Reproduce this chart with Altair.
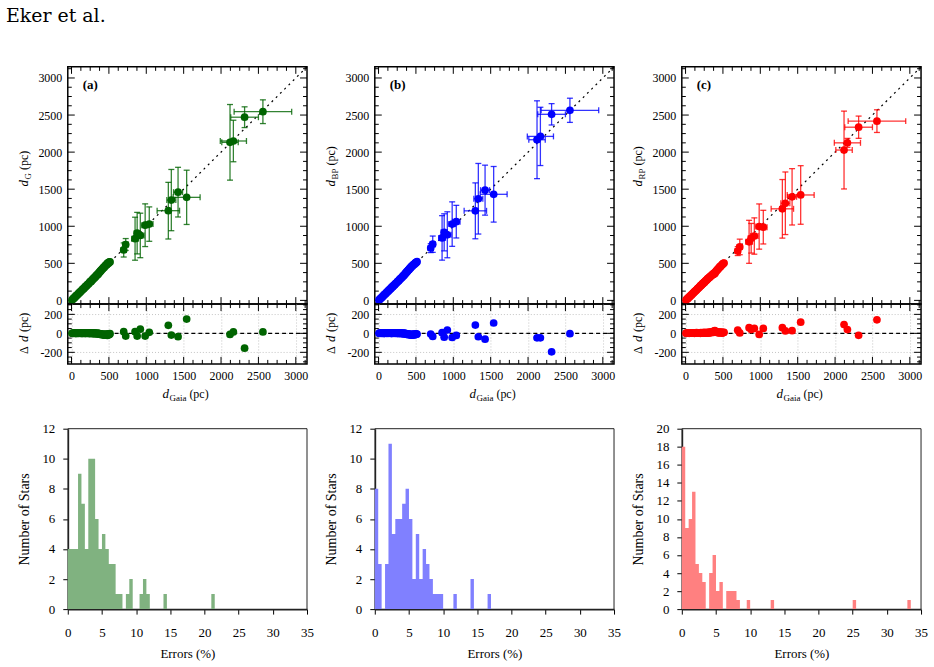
import altair as alt
import pandas as pd

FONT = "Liberation Serif"

# ---------------- data ----------------
# distant stars (pc)
far_gaia = [698, 725, 850, 878, 920, 985, 1040, 1295, 1335, 1425, 1540, 2120, 2165, 2315, 2560]
far_gaia_err = [35, 35, 45, 40, 50, 45, 50, 150, 60, 60, 180, 110, 175, 185, 385]
far_g = [680, 754, 832, 907, 876, 1014, 1029, 1210, 1353, 1460, 1390, 2132, 2150, 2471, 2545]
far_g_err = [95, 80, 290, 280, 300, 288, 232, 382, 413, 335, 366, 510, 280, 140, 160]
far_bp = [705, 758, 843, 918, 885, 1029, 1062, 1208, 1371, 1487, 1431, 2167, 2212, 2510, 2564]
far_bp_err = [60, 110, 300, 250, 310, 300, 220, 377, 476, 337, 375, 525, 393, 144, 163]
far_rp = [665, 721, 790, 838, 868, 996, 988, 1235, 1310, 1397, 1422, 2028, 2125, 2336, 2418]
far_rp_err = [60, 105, 290, 200, 245, 305, 227, 395, 422, 380, 395, 525, 60, 150, 153]

# nearby stars: Gaia distance and residuals (d_Gaia - d_band)
cl_gaia = [6, 14, 21, 27, 34, 40, 48, 55, 61, 69, 76, 83,
           90, 97, 104, 111, 119, 126, 132, 140, 147, 154, 161, 168,
           176, 183, 190, 198, 205, 212, 219, 226, 233, 241, 248, 255,
           262, 270, 277, 284, 291, 298, 306, 313, 320, 327, 334, 342,
           349, 356, 363, 371, 378, 385, 392, 399, 407, 414, 421, 428,
           436, 443, 450, 458, 465, 472, 480, 487, 494, 501, 508, 515]
cl_res_g = [1, 0, 2, -1, 1, 3, 0, 2, -2, 1, 4, 0,
            2, -1, 3, 1, 0, 4, 2, -2, 1, 3, 0, 5,
            2, -3, 1, 4, 0, 2, -1, 5, 3, 0, -4, 2,
            6, 1, -2, 3, 0, -5, 4, 2, -3, 1, -6, 0,
            -4, 3, -8, -2, -10, -5, -12, -7, -15, -9, -13, -18,
            -8, -14, -20, -11, -16, -9, -22, -12, -6, -15, -10, -4]
cl_res_bp = [0, 2, 1, 3, -1, 2, 4, 0, 1, 3, -2, 2,
             1, 4, 0, 2, 3, -1, 5, 1, 2, 0, 4, 3,
             -2, 1, 5, 2, 0, 3, 6, -1, 2, 4, 1, -3,
             3, 5, 0, 2, -4, 4, 1, -2, 3, -5, 0, 2,
             -6, 1, -8, -3, -11, -5, -9, -14, -7, -12, -17, -10,
             -15, -20, -9, -13, -18, -11, -8, -16, -12, -5, -10, -7]
cl_res_rp = [2, 0, 3, 1, 4, 2, 0, 5, 3, 1, 6, 2,
             4, 1, 5, 3, 0, 6, 2, 4, 7, 1, 3, 5,
             2, 6, 4, 0, 8, 3, 5, 1, 7, 4, 2, 9,
             5, 3, 8, 6, 2, 10, 4, 7, 12, 5, 9, 14,
             8, 12, 18, 10, 24, 15, 30, 20, 12, 16, 8, 14,
             10, 6, 12, 4, 9, 13, 7, 3, 10, 5, 8, 11]

# histograms of errors (%), bin width 0.5 (only non-empty bins listed)
BIN_W = 0.5
g_bins = [0, 0.5, 1, 1.5, 2, 2.5, 3, 3.5, 4, 4.5, 5, 5.5, 6, 6.5, 7, 7.5, 8.5, 9, 10.5, 11, 11.5, 14, 21]
g_counts = [4, 4, 4, 9, 7, 4, 10, 10, 6, 4, 5, 4, 3, 3, 1, 1, 1, 2, 1, 2, 1, 1, 1]
bp_bins = [0, 0.5, 1.5, 2, 2.5, 3, 3.5, 4, 4.5, 5, 5.5, 6, 6.5, 7, 7.5, 8, 8.5, 9, 9.5, 11.5, 14, 16.5]
bp_counts = [8, 3, 3, 11, 5, 6, 6, 7, 8, 6, 2, 5, 2, 4, 3, 2, 1, 1, 1, 1, 2, 1]
rp_bins = [0, 0.5, 1, 1.5, 2, 2.5, 3, 4, 4.5, 5, 5.5, 6.5, 7, 7.5, 8, 9.5, 13, 25, 33]
rp_counts = [18, 9, 10, 13, 5, 4, 3, 4, 6, 2, 3, 2, 2, 2, 1, 1, 1, 1, 1]

major_d = [0, 500, 1000, 1500, 2000, 2500, 3000]
minor_d = [125, 250, 375, 625, 750, 875, 1125, 1250, 1375, 1625, 1750, 1875,
           2125, 2250, 2375, 2625, 2750, 2875, 3125]
major_r = [-200, 0, 200]
minor_r = [-300, -250, -150, -100, -50, 50, 100, 150, 250, 300]

# ---------------- layout constants ----------------
W = 240
H_TOP = 238
H_RES = 60
GAP = 65
H_HIST = 181
D_LO, D_HI = -50, 3150
R_LO, R_HI = -322, 308
MAJ_L, MIN_L = 7, 4


def one_row():
    return pd.DataFrame({"k": [0]})


def frame_ticks(X, Y, xmaj, xmin, ymaj, ymin, w, h):
    layers = []
    for vals, L in ((xmaj, MAJ_L), (xmin, MIN_L)):
        base = alt.Chart(pd.DataFrame({"v": vals})).mark_rule(color="black", strokeWidth=1)
        layers.append(base.encode(x=X("v"), y=alt.value(h), y2=alt.value(h - L)))
        layers.append(base.encode(x=X("v"), y=alt.value(0), y2=alt.value(L)))
    for vals, L in ((ymaj, MAJ_L), (ymin, MIN_L)):
        base = alt.Chart(pd.DataFrame({"v": vals})).mark_rule(color="black", strokeWidth=1)
        layers.append(base.encode(y=Y("v"), x=alt.value(0), x2=alt.value(L)))
        layers.append(base.encode(y=Y("v"), x=alt.value(w), x2=alt.value(w - L)))
    return layers


def txt(text, x, y, size, style="normal", weight="normal", angle=0, font=FONT):
    kw = dict(text=text, font=font, fontSize=size, fontStyle=style, fontWeight=weight,
              align="left", baseline="alphabetic", color="black")
    if angle:
        kw["angle"] = angle
    return alt.Chart(one_row()).mark_text(**kw).encode(x=alt.value(x), y=alt.value(y))


def rot_title_d(sub, subw, x0, y0):
    return [
        txt("d", x0, y0, 13, style="italic", angle=270),
        txt(sub, x0 + 3, y0 - 7, 9, angle=270),
        txt("(pc)", x0, y0 - 7 - subw - 3, 12, angle=270),
    ]


def panel(letter, far_d, far_err, cl_res, color, sub, subw, first=False):
    xs = alt.Scale(domain=[D_LO, D_HI], nice=False, zero=False)
    ys = alt.Scale(domain=[D_LO, D_HI], nice=False, zero=False)
    yax = alt.Axis(values=major_d, ticks=False, domain=False, grid=False, title=None,
                   labelPadding=6, labelExpr="'' + datum.value", labelFlush=False,
                   labelOverlap=False)

    def X(f):
        return alt.X(f, type="quantitative", scale=xs, axis=None)

    def Y(f):
        return alt.Y(f, type="quantitative", scale=ys, axis=yax)

    far = pd.DataFrame({"gaia": far_gaia, "gerr": far_gaia_err, "d": far_d, "err": far_err})
    far["lo"] = far["d"] - far["err"]
    far["hi"] = far["d"] + far["err"]
    far["xlo"] = far["gaia"] - far["gerr"]
    far["xhi"] = far["gaia"] + far["gerr"]
    far["res"] = far["gaia"] - far["d"]
    cl = pd.DataFrame({"gaia": cl_gaia, "res": cl_res})
    cl["d"] = cl["gaia"] - cl["res"]
    pts = pd.concat([cl[["gaia", "d", "res"]], far[["gaia", "d", "res"]]], ignore_index=True)

    eb = dict(color=color, opacity=0.8, strokeWidth=1.3)
    layers = frame_ticks(X, Y, major_d, minor_d, major_d, minor_d, W, H_TOP)
    layers.append(
        alt.Chart(pd.DataFrame({"a": [D_LO, D_HI], "b": [D_LO, D_HI]}))
        .mark_line(color="black", strokeDash=[2, 4], strokeWidth=1.2)
        .encode(x=X("a"), y=Y("b"))
    )
    layers.append(alt.Chart(far).mark_rule(**eb).encode(x=X("gaia"), y=Y("lo"), y2="hi"))
    layers.append(alt.Chart(far).mark_rule(**eb).encode(y=Y("d"), x=X("xlo"), x2="xhi"))
    cap_h = dict(shape="M-1,0L1,0", size=36, filled=False, **eb)
    cap_v = dict(shape="M0,-1L0,1", size=36, filled=False, **eb)
    layers.append(alt.Chart(far).mark_point(**cap_h).encode(x=X("gaia"), y=Y("lo")))
    layers.append(alt.Chart(far).mark_point(**cap_h).encode(x=X("gaia"), y=Y("hi")))
    layers.append(alt.Chart(far).mark_point(**cap_v).encode(x=X("xlo"), y=Y("d")))
    layers.append(alt.Chart(far).mark_point(**cap_v).encode(x=X("xhi"), y=Y("d")))
    layers.append(alt.Chart(pts).mark_circle(size=60, color=color, opacity=1).encode(x=X("gaia"), y=Y("d")))
    layers.append(txt("(" + letter + ")", 15, 22, 13, weight="bold"))
    layers += rot_title_d(sub, subw, -40, 120)
    if first:
        layers.append(txt("Eker et al.", -62, -45, 19, font="DejaVu Serif"))
    top = alt.layer(*layers).properties(width=W, height=H_TOP)

    # residual panel
    xs2 = alt.Scale(domain=[D_LO, D_HI], nice=False, zero=False)
    ys2 = alt.Scale(domain=[R_LO, R_HI], nice=False, zero=False)
    xax2 = alt.Axis(values=major_d, ticks=False, domain=False, title=None, labelPadding=7,
                    labelExpr="'' + datum.value", labelFlush=False, labelOverlap=False,
                    grid=True, gridColor="#c4c4c4", gridDash=[1, 2], gridWidth=1)
    yax2 = alt.Axis(values=major_r, ticks=False, domain=False, title=None, labelPadding=6,
                    labelExpr="'' + datum.value", labelFlush=False, labelOverlap=False,
                    grid=True, gridColor="#c4c4c4", gridDash=[1, 2], gridWidth=1)

    def X2(f):
        return alt.X(f, type="quantitative", scale=xs2, axis=xax2)

    def Y2(f):
        return alt.Y(f, type="quantitative", scale=ys2, axis=yax2)

    rl = frame_ticks(X2, Y2, major_d, minor_d, major_r, minor_r, W, H_RES)
    rl.append(
        alt.Chart(pd.DataFrame({"z": [0]}))
        .mark_rule(color="black", strokeDash=[4, 3], strokeWidth=1.1)
        .encode(y=Y2("z"))
    )
    rl.append(alt.Chart(pts).mark_circle(size=60, color=color, opacity=1).encode(x=X2("gaia"), y=Y2("res")))
    rl += [
        txt("\u0394", -40, 50, 12, angle=270),
        txt("d", -40, 38, 13, style="italic", angle=270),
        txt("(pc)", -40, 28, 12, angle=270),
    ]
    rl += [
        txt("d", 95, H_RES + 34, 13, style="italic"),
        txt("Gaia", 102, H_RES + 37, 9),
        txt("(pc)", 122, H_RES + 34, 12),
    ]
    res = alt.layer(*rl).properties(width=W, height=H_RES)
    return top, res


def hist(bins, counts, color, ymax):
    # full sequence of bin edges (empty bins have count 0) for a seamless step fill
    lookup = {round(b / BIN_W): c for b, c in zip(bins, counts)}
    n_bins = max(lookup) + 1
    edges = [i * BIN_W for i in range(n_bins + 1)]
    heights = [lookup.get(i, 0) for i in range(n_bins)] + [0]
    df = pd.DataFrame({"edge": edges, "n": heights, "base": [0] * len(edges)})
    total_h = GAP + H_HIST
    xsc = alt.Scale(domain=[0, 35], nice=False, zero=False)
    ysc = alt.Scale(domain=[0, ymax], nice=False, range=[total_h, GAP])
    xax = alt.Axis(values=list(range(0, 36, 5)), tickSize=5, tickColor="black", domainColor="#222222",
                   domainWidth=1.8, labelPadding=12, labelFlush=False, labelOverlap=False, grid=False,
                   labelFontSize=13, title="Errors (%)", titlePadding=9)
    yax = alt.Axis(values=list(range(0, ymax + 1, 2)), tickSize=5, tickColor="black", domainColor="#222222",
                   domainWidth=1.8, labelPadding=8, labelFlush=False, labelOverlap=False, grid=False,
                   labelFontSize=13, title="Number of Stars", titlePadding=10, titleFontSize=14)
    bars = (
        alt.Chart(df)
        .mark_area(interpolate="step-after", color=color, opacity=1)
        .encode(
            x=alt.X("edge:Q", scale=xsc, axis=xax),
            y=alt.Y("n:Q", scale=ysc, axis=yax),
            y2="base:Q",
        )
    )
    top_edge = alt.Chart(one_row()).mark_rule(color="#222222", strokeWidth=1).encode(
        x=alt.value(0), x2=alt.value(W), y=alt.value(GAP))
    right_edge = alt.Chart(one_row()).mark_rule(color="#222222", strokeWidth=1).encode(
        x=alt.value(W), y=alt.value(GAP), y2=alt.value(total_h))
    return alt.layer(bars, top_edge, right_edge).properties(
        width=W, height=total_h, view=alt.ViewBackground(stroke="transparent"))


ta, ra = panel("a", far_g, far_g_err, cl_res_g, "#006400", "G", 6.5, first=True)
tb, rb = panel("b", far_bp, far_bp_err, cl_res_bp, "#0000ff", "BP", 11)
tc, rc = panel("c", far_rp, far_rp_err, cl_res_rp, "#ff0000", "RP", 11)

ha = hist(g_bins, g_counts, "#80b280", 12)
hb = hist(bp_bins, bp_counts, "#8080ff", 12)
hc = hist(rp_bins, rp_counts, "#ff8080", 20)

chart = (
    alt.concat(ta, tb, tc, ra, rb, rc, ha, hb, hc, columns=3,
               spacing={"row": 0, "column": 68}, bounds="flush")
    .properties(padding={"left": 5, "top": 5, "right": 5, "bottom": 5}, background="white")
    .configure_view(stroke="black", strokeWidth=1.5)
    .configure_axis(labelFont=FONT, labelFontSize=12, labelColor="black",
                    titleFont=FONT, titleFontSize=13, titleFontWeight="normal", titleColor="black")
)

chart.save("out.html", embed_options={"renderer": "svg", "actions": False})
